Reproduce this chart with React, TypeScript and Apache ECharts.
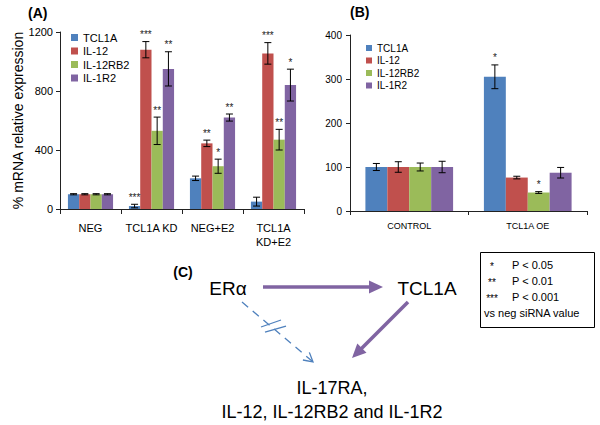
import React, { useEffect, useRef } from "react";
import * as echarts from "echarts";

const seriesNames = ["TCL1A", "IL-12", "IL-12RB2", "IL-1R2"];
const colors = ["#4F81BD", "#C0504D", "#9BBB59", "#8064A2"];

const catsA = ["NEG", "TCL1A KD", "NEG+E2", "TCL1A\nKD+E2"];
const aTCL1A = [100, 20, 208, 50];
const aIL12 = [100, 1080, 445, 1055];
const aIL12RB2 = [100, 530, 290, 470];
const aIL1R2 = [100, 950, 620, 840];
const aTCL1AErr = [4, 12, 15, 30];
const aIL12Err = [4, 55, 22, 73];
const aIL12RB2Err = [4, 93, 48, 70];
const aIL1R2Err = [4, 116, 24, 108];
const aTCL1AStars = ["", "***", "", ""];
const aIL12Stars = ["", "***", "**", "***"];
const aIL12RB2Stars = ["", "**", "*", "**"];
const aIL1R2Stars = ["", "**", "**", "*"];
const ticksA = [0, 400, 800, 1200];

const catsB = ["CONTROL", "TCL1A OE"];
const bTCL1A = [100, 305];
const bIL12 = [100, 76];
const bIL12RB2 = [100, 42];
const bIL1R2 = [100, 87];
const bTCL1AErr = [8, 27];
const bIL12Err = [12, 3];
const bIL12RB2Err = [9, 2];
const bIL1R2Err = [13, 12];
const bTCL1AStars = ["", "*"];
const bIL12Stars = ["", ""];
const bIL12RB2Stars = ["", "*"];
const bIL1R2Stars = ["", ""];
const ticksB = [0, 100, 200, 300, 400];

const pLegend = [
  ["*", "P < 0.05"],
  ["**", "P < 0.01"],
  ["***", "P < 0.001"],
];

const FONT = "Arial, 'Liberation Sans', sans-serif";
const GAP = 0.26;

function buildErr(vals: number[][], errs: number[][], stars: string[][]) {
  const data: any[] = [];
  const lab: string[] = [];
  vals.forEach((arr, s) =>
    arr.forEach((v, c) => {
      data.push([c, s, v, errs[s][c]]);
      lab.push(stars[s][c]);
    })
  );
  return { data, lab };
}

function errSeries(idx: number, vals: number[][], errs: number[][], stars: string[][], starSize: number) {
  const { data, lab } = buildErr(vals, errs, stars);
  return {
    type: "custom",
    xAxisIndex: idx,
    yAxisIndex: idx,
    silent: true,
    z: 5,
    data,
    renderItem: (params: any, api: any) => {
      const c = api.value(0);
      const s = api.value(1);
      const v = api.value(2);
      const e = api.value(3);
      const catW = api.size([1, 0])[0];
      const barW = (catW * (1 - GAP)) / 4;
      const center = api.coord([c, v]);
      const x = center[0] + (s - 1.5) * barW;
      const top = api.coord([c, v + e])[1];
      const bot = api.coord([c, v - e])[1];
      const cap = 3.5;
      const st = { stroke: "#000", lineWidth: 1 };
      const children: any[] = [
        { type: "line", shape: { x1: x, y1: top, x2: x, y2: bot }, style: st },
        { type: "line", shape: { x1: x - cap, y1: top, x2: x + cap, y2: top }, style: st },
        { type: "line", shape: { x1: x - cap, y1: bot, x2: x + cap, y2: bot }, style: st },
      ];
      const t = lab[params.dataIndex];
      if (t) {
        children.push({
          type: "text",
          style: {
            text: t,
            x,
            y: top - 2,
            align: "center",
            verticalAlign: "bottom",
            fontSize: starSize,
            fontFamily: FONT,
            fill: "#222",
          },
        });
      }
      return { type: "group", children };
    },
  };
}

function arrowHead(tip: number[], from: number[], len: number, hw: number) {
  const dx = tip[0] - from[0];
  const dy = tip[1] - from[1];
  const n = Math.hypot(dx, dy);
  const ux = dx / n;
  const uy = dy / n;
  const bx = tip[0] - ux * len;
  const by = tip[1] - uy * len;
  return [
    [bx - uy * hw, by + ux * hw],
    tip,
    [bx + uy * hw, by - ux * hw],
  ];
}

export default function App() {
  const ref = useRef<HTMLDivElement>(null);
  useEffect(() => {
    const chart = echarts.init(ref.current!, null, { renderer: "svg" });
    const valsA = [aTCL1A, aIL12, aIL12RB2, aIL1R2];
    const errsA = [aTCL1AErr, aIL12Err, aIL12RB2Err, aIL1R2Err];
    const starsA = [aTCL1AStars, aIL12Stars, aIL12RB2Stars, aIL1R2Stars];
    const valsB = [bTCL1A, bIL12, bIL12RB2, bIL1R2];
    const errsB = [bTCL1AErr, bIL12Err, bIL12RB2Err, bIL1R2Err];
    const starsB = [bTCL1AStars, bIL12Stars, bIL12RB2Stars, bIL1R2Stars];

    const axisLine = { show: true, lineStyle: { color: "#222", width: 1 } };

    const barSeries = (idx: number, vals: number[][]) =>
      vals.map((arr, s) => ({
        type: "bar",
        name: seriesNames[s],
        xAxisIndex: idx,
        yAxisIndex: idx,
        data: arr,
        barGap: "0%",
        barCategoryGap: GAP * 100 + "%",
        itemStyle: { color: colors[s] },
      }));

    const h1 = arrowHead([383, 287], [263, 287], 14, 6.5);
    const h2 = arrowHead([352, 358], [408, 302], 14, 6.5);
    const h3 = arrowHead([313, 362], [242, 302], 9, 5);

    const graphic: any[] = [
      { type: "text", left: 28, top: 6, style: { text: "(A)", fontSize: 14, fontWeight: "bold", fontFamily: FONT, fill: "#000" } },
      { type: "text", left: 350, top: 5, style: { text: "(B)", fontSize: 14, fontWeight: "bold", fontFamily: FONT, fill: "#000" } },
      { type: "text", x: 183, y: 272, style: { text: "(C)", fontSize: 14, fontWeight: "bold", fontFamily: FONT, fill: "#000", align: "center", verticalAlign: "middle" } },
      { type: "text", x: 228, y: 288, style: { text: "ERα", fontSize: 19, fontFamily: FONT, fill: "#000", align: "center", verticalAlign: "middle" } },
      { type: "text", x: 427, y: 288, style: { text: "TCL1A", fontSize: 19, fontFamily: FONT, fill: "#000", align: "center", verticalAlign: "middle" } },
      { type: "text", x: 332, y: 388, style: { text: "IL-17RA,", fontSize: 18, fontFamily: FONT, fill: "#000", align: "center", verticalAlign: "middle" } },
      { type: "text", x: 332, y: 412, style: { text: "IL-12, IL-12RB2 and IL-1R2", fontSize: 18, fontFamily: FONT, fill: "#000", align: "center", verticalAlign: "middle" } },
      { type: "line", shape: { x1: 263, y1: 287, x2: 372, y2: 287 }, style: { stroke: "#8064A2", lineWidth: 3.5 } },
      { type: "polygon", shape: { points: h1 }, style: { fill: "#8064A2" } },
      { type: "line", shape: { x1: 408, y1: 302, x2: 360, y2: 350 }, style: { stroke: "#8064A2", lineWidth: 3.5 } },
      { type: "polygon", shape: { points: h2 }, style: { fill: "#8064A2" } },
      { type: "line", shape: { x1: 242, y1: 302, x2: 312, y2: 361 }, style: { stroke: "#4F81BD", lineWidth: 1.3, lineDash: [8, 6] } },
      { type: "polyline", shape: { points: h3 }, style: { stroke: "#4F81BD", lineWidth: 1.3, fill: null } },
      { type: "line", shape: { x1: 261, y1: 327, x2: 281, y2: 320 }, style: { stroke: "#4F81BD", lineWidth: 1.3 } },
      { type: "line", shape: { x1: 265, y1: 332, x2: 286, y2: 326 }, style: { stroke: "#4F81BD", lineWidth: 1.3 } },
      { type: "rect", shape: { x: 480.5, y: 252.5, width: 114, height: 75 }, style: { stroke: "#000", lineWidth: 1, fill: "#fff" } },
      { type: "text", x: 484, y: 313, style: { text: "vs neg siRNA value", fontSize: 11, fontFamily: FONT, fill: "#000", verticalAlign: "middle" } },
    ];
    pLegend.forEach(([s, p], i) => {
      graphic.push({ type: "text", x: 492, y: 266 + i * 16, style: { text: s, fontSize: 10, fontFamily: FONT, fill: "#000", align: "center", verticalAlign: "middle" } });
      graphic.push({ type: "text", x: 512, y: 265 + i * 16, style: { text: p, fontSize: 11, fontFamily: FONT, fill: "#000", verticalAlign: "middle" } });
    });

    chart.setOption({
      animation: false,
      textStyle: { fontFamily: FONT },
      grid: [
        { left: 60, top: 32, width: 244, height: 177 },
        { left: 350, top: 35, width: 237, height: 176 },
      ],
      legend: [
        {
          data: seriesNames,
          orient: "vertical",
          left: 71,
          top: 32,
          padding: 0,
          itemWidth: 7,
          itemHeight: 7,
          itemGap: 2.5,
          icon: "rect",
          textStyle: { fontSize: 11, color: "#000", fontFamily: FONT },
        },
        {
          data: seriesNames,
          orient: "vertical",
          left: 366,
          top: 43,
          padding: 0,
          itemWidth: 6,
          itemHeight: 6,
          itemGap: 2.5,
          icon: "rect",
          textStyle: { fontSize: 10, color: "#000", fontFamily: FONT },
        },
      ],
      xAxis: [
        {
          type: "category",
          gridIndex: 0,
          data: catsA,
          axisLine,
          axisTick: { show: true, length: 5, lineStyle: { color: "#222" } },
          axisLabel: { color: "#000", fontSize: 11, margin: 12, lineHeight: 14, interval: 0 },
        },
        {
          type: "category",
          gridIndex: 1,
          data: catsB,
          axisLine,
          axisTick: { show: true, length: 4, lineStyle: { color: "#222" } },
          axisLabel: { color: "#000", fontSize: 9, margin: 10, interval: 0 },
        },
      ],
      yAxis: [
        {
          type: "value",
          gridIndex: 0,
          min: ticksA[0],
          max: ticksA[ticksA.length - 1],
          interval: 400,
          name: "% mRNA relative expression",
          nameLocation: "middle",
          nameGap: 35,
          nameTextStyle: { fontSize: 14, color: "#000", fontFamily: FONT },
          axisLine,
          axisTick: { show: true, length: 4, lineStyle: { color: "#222" } },
          axisLabel: { color: "#000", fontSize: 11, margin: 7, formatter: (v: number) => String(v) },
          splitLine: { show: false },
        },
        {
          type: "value",
          gridIndex: 1,
          min: ticksB[0],
          max: ticksB[ticksB.length - 1],
          interval: 100,
          axisLine,
          axisTick: { show: true, length: 4, lineStyle: { color: "#222" } },
          axisLabel: { color: "#000", fontSize: 10, margin: 8 },
          splitLine: { show: false },
        },
      ],
      series: [
        ...barSeries(0, valsA),
        ...barSeries(1, valsB),
        errSeries(0, valsA, errsA, starsA, 10),
        errSeries(1, valsB, errsB, starsB, 10),
      ],
      graphic,
    });
    return () => chart.dispose();
  }, []);
  return (
    <div
      ref={ref}
      style={{ position: "fixed", left: 0, top: 0, width: 600, height: 425, background: "#fff" }}
    />
  );
}
